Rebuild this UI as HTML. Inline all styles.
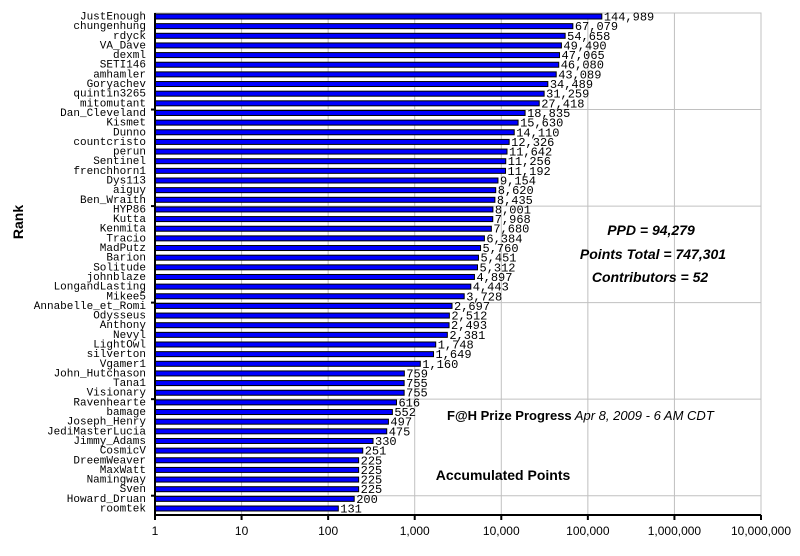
<!DOCTYPE html>
<html><head><meta charset="utf-8"><style>
body{margin:0;background:#fff;}
svg text{font-family:"Liberation Sans",sans-serif;}
.mono{font-family:"Liberation Mono",monospace;}
</style></head><body>
<svg id="chart" width="800" height="551" xmlns="http://www.w3.org/2000/svg">
<g id="grid"></g><g id="bars"></g><g id="names"></g><g id="vals"></g><g id="axes"></g>
<text x="23" y="222" transform="rotate(-90 23 222)" text-anchor="middle" font-size="14" font-weight="bold">Rank</text>
<text x="651" y="235" text-anchor="middle" font-size="14" font-weight="bold" font-style="italic">PPD = 94,279</text>
<text x="653" y="259" text-anchor="middle" font-size="14" font-weight="bold" font-style="italic">Points Total = 747,301</text>
<text x="650" y="282" text-anchor="middle" font-size="14" font-weight="bold" font-style="italic">Contributors = 52</text>
<text x="447" y="420" font-size="13"><tspan font-weight="bold">F@H Prize Progress</tspan><tspan font-style="italic"> Apr 8, 2009 - 6 AM CDT</tspan></text>
<text x="503" y="480" text-anchor="middle" font-size="14" font-weight="bold">Accumulated Points</text>
</svg>
<script>
const names=["JustEnough","chungenhung","rdyck","VA_Dave","dexml","SETI146","amhamler","Goryachev","quintin3265","mitomutant","Dan_Cleveland","Kismet","Dunno","countcristo","perun","Sentinel","frenchhorn1","Dys113","aiguy","Ben_Wraith","HYP86","Kutta","Kenmita","Tracio","MadPutz","Barion","Solitude","johnblaze","LongandLasting","Mikee5","Annabelle_et_Romi","Odysseus","Anthony","Nevyl","LightOwl","silverton","Vgamer1","John_Hutchason","Tana1","Visionary","Ravenhearte","bamage","Joseph_Henry","JediMasterLucia","Jimmy_Adams","CosmicV","DreemWeaver","MaxWatt","Namingway","Sven","Howard_Druan","roomtek"];
const points=[144989,67079,54658,49490,47065,46080,43089,34489,31259,27418,18835,15630,14110,12326,11642,11256,11192,9154,8620,8435,8001,7968,7680,6384,5760,5451,5312,4897,4443,3728,2697,2512,2493,2381,1748,1649,1160,759,755,755,616,552,497,475,330,251,225,225,225,225,200,131];
const tickVals=[1,10,100,1000,10000,100000,1000000,10000000];
const tickLabels=["1","10","100","1,000","10,000","100,000","1,000,000","10,000,000"];
const NS="http://www.w3.org/2000/svg";
const L=155,R=761,T=13,B=515;
const dec=(R-L)/7;
const x=v=>L+Math.log10(v)*dec;
const yc=i=>16.5+i*((508.5-16.5)/(names.length-1));
function mk(tag,attrs,parent){const e=document.createElementNS(NS,tag);for(const k in attrs)e.setAttribute(k,attrs[k]);document.getElementById(parent).appendChild(e);return e;}
// grid
let g=mk('rect',{x:L,y:T,width:R-L,height:B-T,fill:'none',stroke:'#c0c0c0','stroke-width':1},'grid');


tickVals.forEach((v,i)=>{if(i===0)return;const l=mk('line',{x1:x(v),x2:x(v),y1:T,y2:B,stroke:'#c0c0c0'},'grid');

});
const band=(B-T)/names.length;
for(let k=10;k<names.length;k+=10){const yy=T+k*band;const l=mk('line',{x1:L,x2:R,y1:yy,y2:yy,stroke:'#c0c0c0'},'grid');


const t=mk('line',{x1:L-4,x2:L,y1:yy,y2:yy,stroke:'#000','stroke-width':2},'axes');

}
names.forEach((n,i)=>{
 const c=yc(i);
 const r=mk('rect',{x:L,y:c-2.5,width:x(points[i])-L,height:5,fill:'#0000ff',stroke:'#000','stroke-width':1},'bars');
 
 
 const t=mk('text',{x:146,y:c+3,'text-anchor':'end','font-size':11,class:'mono'},'names');
 t.textContent=n;
 
 
 const v=mk('text',{x:x(points[i])+2,y:c+4,'font-size':12,class:'mono'},'vals');
 v.textContent=points[i].toLocaleString('en-US');
 
 
});
let ax=mk('line',{x1:L,x2:L,y1:T,y2:B+1,stroke:'#000','stroke-width':2},'axes');


ax=mk('line',{x1:L-1,x2:R,y1:B,y2:B,stroke:'#000','stroke-width':2},'axes');


tickVals.forEach((v,i)=>{
 const tk=mk('line',{x1:x(v),x2:x(v),y1:B,y2:B+5,stroke:'#000','stroke-width':2},'axes');
 
 
 const t=mk('text',{x:x(v),y:B+20,'text-anchor':'middle','font-size':12},'axes');
 t.textContent=tickLabels[i];
 
 
});
</script>
</body></html>
